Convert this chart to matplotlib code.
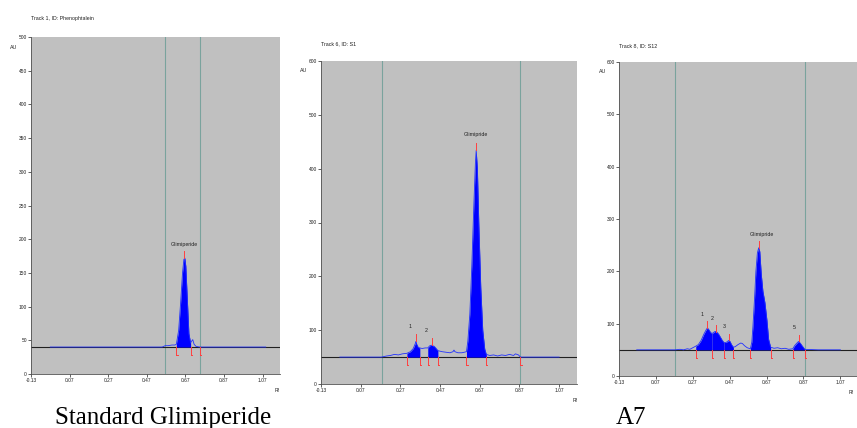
import matplotlib.pyplot as plt
import numpy as np

plt.rcParams['font.family'] = ['Liberation Sans Narrow', 'Liberation Sans', 'DejaVu Sans']

# x ticks shared by all three densitograms
RF_TICKS = [-0.13, 0.07, 0.27, 0.47, 0.67, 0.87, 1.07]

# Panel 1: standard (Track 1)
TITLE1 = "Track 1, ID: Phenophtalein"
BASE1 = 40
WIN1 = [0.566, 0.743]
RF1 = [-0.03, 0.20, 0.40, 0.55, 0.565, 0.58, 0.60, 0.615, 0.623, 0.635, 0.645, 0.655,
       0.662, 0.667, 0.672, 0.68, 0.688, 0.697, 0.703, 0.708, 0.715, 0.725, 0.743, 0.80, 1.00, 1.086]
AU1 = [40, 40, 40, 40, 42, 42, 43, 43, 44, 65, 105, 150,
       170, 172, 160, 110, 60, 46, 49, 51, 44, 41, 40, 40, 40, 40]
PEAKS1 = [(0.623, 0.697)]
APEX1 = [(0.665, 172)]
LABELS1 = [(0.665, 188, "Glimiperide")]
ENDMARK1 = [0.743]

# Panel 2: Track 6, S1
TITLE2 = "Track 6, ID: S1"
BASE2 = 50
WIN2 = [0.175, 0.875]
RF2 = [-0.035, 0.10, 0.175, 0.20, 0.22, 0.24, 0.26, 0.28, 0.303, 0.32, 0.335, 0.345, 0.348,
       0.352, 0.36, 0.368, 0.38, 0.395, 0.408, 0.418, 0.428, 0.44, 0.45, 0.459, 0.48, 0.50,
       0.52, 0.535, 0.54, 0.545, 0.56, 0.58, 0.603, 0.61, 0.62, 0.63, 0.64, 0.648, 0.652,
       0.658, 0.665, 0.675, 0.685, 0.695, 0.703, 0.72, 0.74, 0.76, 0.78, 0.80, 0.82, 0.84,
       0.85, 0.865, 0.875, 0.95, 1.07]
AU2 = [50, 50, 50, 52, 53, 55, 54, 56, 57, 60, 66, 75, 79,
       74, 68, 67, 66, 67, 67, 71, 72, 70, 66, 62, 60, 59,
       58, 60, 63, 60, 58, 58, 60, 80, 130, 220, 330, 410, 434,
       400, 300, 180, 100, 65, 55, 53, 54, 52, 54, 53, 55, 53,
       56, 54, 50, 50, 50]
PEAKS2 = [(0.303, 0.368), (0.408, 0.459), (0.603, 0.703)]
APEX2 = [(0.348, 79), (0.428, 72), (0.652, 434)]
LABELS2 = [(0.32, 103, "1"), (0.40, 95, "2"), (0.652, 458, "Glimipride")]
ENDMARK2 = [0.875]

# Panel 3: Track 8, S12 (A7)
TITLE3 = "Track 8, ID: S12"
BASE3 = 50
WIN3 = [0.176, 0.877]
RF3 = [-0.034, 0.10, 0.176, 0.20, 0.22, 0.24, 0.254, 0.27, 0.286, 0.30, 0.315, 0.33, 0.342,
       0.349, 0.356, 0.365, 0.374, 0.382, 0.39, 0.394, 0.40, 0.41, 0.42, 0.43, 0.439, 0.45,
       0.458, 0.465, 0.472, 0.48, 0.49, 0.50, 0.515, 0.53, 0.539, 0.55, 0.565,
       0.582, 0.59, 0.596, 0.605, 0.612, 0.62, 0.627, 0.633, 0.641, 0.65, 0.661, 0.672,
       0.681, 0.692, 0.71, 0.73, 0.75, 0.77, 0.79, 0.812, 0.822, 0.832, 0.843, 0.852,
       0.862, 0.877, 0.95, 1.07]
AU3 = [50, 50, 50, 51, 50, 52, 51, 54, 57, 60, 68, 80, 88,
       92, 89, 84, 81, 83, 85, 85, 84, 80, 74, 68, 64, 64,
       66, 68, 66, 60, 55, 56, 60, 63, 62, 58, 54,
       52, 65, 95, 150, 200, 235, 245, 238, 195, 162, 140, 106,
       70, 55, 53, 54, 52, 53, 51, 52, 58, 62, 66, 63,
       58, 51, 50, 50]
PEAKS3 = [(0.286, 0.374), (0.374, 0.439), (0.439, 0.49), (0.582, 0.692), (0.812, 0.877)]
APEX3 = [(0.349, 92), (0.394, 85), (0.465, 68), (0.627, 245), (0.843, 66)]
LABELS3 = [(0.319, 113, "1"), (0.373, 105, "2"), (0.44, 90, "3"),
           (0.645, 266, "Glimipride"), (0.82, 87, "5")]
ENDMARK3 = []

BG = '#c0c0c0'
WINC = '#7aa39d'
RED = '#ff4040'


def draw_panel(ax, title, rf, au, base, win, peaks, apex, labels, endmarks, ymax, ystep, tpos):
    rf = np.array(rf)
    au = np.array(au)
    ax.set_facecolor(BG)
    ax.set_xlim(-0.13, 1.16)
    ax.set_ylim(0, ymax)

    for w in win:
        ax.axvline(w, color=WINC, lw=0.8, zorder=1)
    ax.axhline(base, color='#202020', lw=0.8, zorder=2)

    for s, e in peaks:
        m = (rf >= s) & (rf <= e)
        ax.fill_between(rf[m], base, au[m], color='#0000ff', lw=0, zorder=3)
    ax.plot(rf, au, color='#2030ff', lw=0.6, zorder=4)

    # peak start / end markers
    marks = sorted(set([p for pk in peaks for p in pk] + list(endmarks)))
    dy = ymax * 0.025
    for x in marks:
        ax.plot([x, x], [base, base - dy], color=RED, lw=0.7, zorder=5)
        ax.plot([x, x + 0.006], [base - dy, base - dy], color=RED, lw=0.7, zorder=5)
    for x, y in apex:
        ax.plot([x, x], [y, y + ymax * 0.022], color=RED, lw=0.7, zorder=5)
    for x, y, t in labels:
        ax.text(x, y, t, fontsize=3.8, ha='center', va='bottom', color='#202020', zorder=6)

    ax.set_xticks(RF_TICKS)
    ax.set_xticklabels([f"{t:.2f}" for t in RF_TICKS])
    ax.set_yticks(np.arange(0, ymax + 1, ystep))
    ax.tick_params(labelsize=3.5, length=2, width=0.5, pad=1, colors='#202020')
    for sp in ['top', 'right']:
        ax.spines[sp].set_visible(False)
    for sp in ['left', 'bottom']:
        ax.spines[sp].set_color('#505050')
        ax.spines[sp].set_linewidth(0.6)

    fig = ax.figure
    fig.text(tpos[0], tpos[1], title, fontsize=3.8, color='#202020')
    fig.text(tpos[2], tpos[3], "AU", fontsize=3.8, color='#202020')
    fig.text(tpos[4], tpos[5], "Rf", fontsize=3.5, color='#202020')


W, H = 857, 428
fig = plt.figure(figsize=(W / 100, H / 100), dpi=100)

ax1 = fig.add_axes([31 / W, 1 - 374 / H, 249 / W, 337 / H])
ax2 = fig.add_axes([321 / W, 1 - 384 / H, 256 / W, 323 / H])
ax3 = fig.add_axes([619 / W, 1 - 376 / H, 238 / W, 314 / H])

draw_panel(ax1, TITLE1, RF1, AU1, BASE1, WIN1, PEAKS1, APEX1, LABELS1, ENDMARK1, 500, 50,
           (31 / W, 1 - 20 / H, 10 / W, 1 - 49 / H, 275 / W, 1 - 392 / H))
draw_panel(ax2, TITLE2, RF2, AU2, BASE2, WIN2, PEAKS2, APEX2, LABELS2, ENDMARK2, 600, 100,
           (321 / W, 1 - 45 / H, 300 / W, 1 - 72 / H, 573 / W, 1 - 402 / H))
draw_panel(ax3, TITLE3, RF3, AU3, BASE3, WIN3, PEAKS3, APEX3, LABELS3, ENDMARK3, 600, 100,
           (619 / W, 1 - 47 / H, 599 / W, 1 - 73 / H, 849 / W, 1 - 394 / H))

cap = dict(fontsize=18, family=['Liberation Serif', 'DejaVu Serif'], color='black')
fig.text(163 / W, 1 - 424 / H, "Standard Glimiperide", ha='center', va='baseline', **cap)
fig.text(631 / W, 1 - 424 / H, "A7", ha='center', va='baseline', **cap)

fig.savefig('out.png', dpi=100)
